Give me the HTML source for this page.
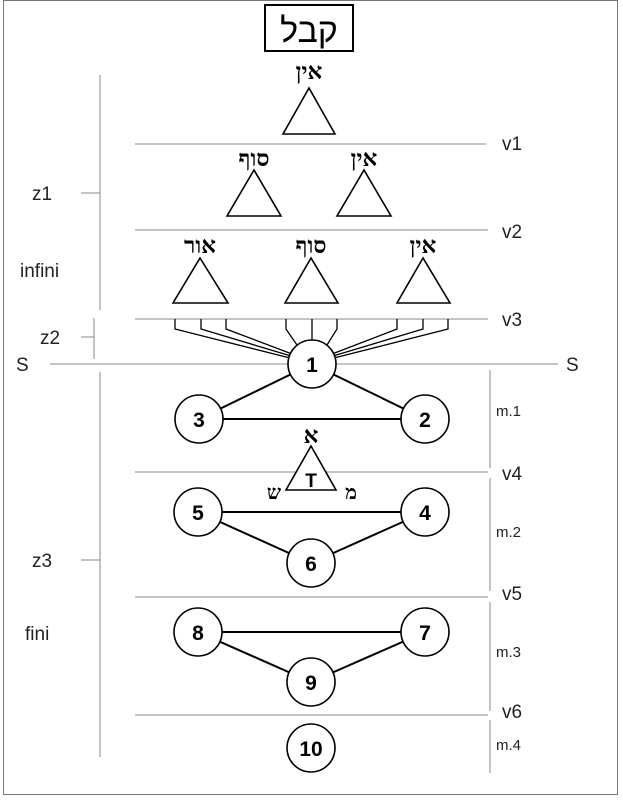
<!DOCTYPE html>
<html><head><meta charset="utf-8"><style>
html,body{margin:0;padding:0;background:#fff;width:623px;height:801px;overflow:hidden}
svg{display:block}
.h{font-family:"Liberation Serif","Noto Serif CJK SC",serif;font-weight:bold;font-size:23px;text-anchor:middle}
.l{font-family:"Liberation Sans",sans-serif;font-size:19px;fill:#222}
.m{font-family:"Liberation Sans",sans-serif;font-size:15px;fill:#222}
.n{font-family:"Liberation Sans",sans-serif;font-weight:bold;font-size:21px;text-anchor:middle}
</style></head><body>
<svg width="623" height="801" viewBox="0 0 623 801" xmlns="http://www.w3.org/2000/svg">
<rect x="3.5" y="0.5" width="614" height="794" fill="none" stroke="#777" stroke-width="1"/>
<rect x="265" y="5" width="88" height="46" fill="none" stroke="#000" stroke-width="2"/>
<text x="309" y="42" font-family="Liberation Sans, sans-serif" font-size="34" text-anchor="middle">קבל</text>
<g class="h"><text x="309" y="79">אין</text>
<text x="254" y="166">סוף</text><text x="364" y="166">אין</text>
<text x="200" y="253">אור</text><text x="311" y="253">סוף</text><text x="423" y="253">אין</text>
<text x="311" y="443">א</text>
<text x="274" y="499" font-size="20">ש</text><text x="351" y="499" font-size="20">מ</text></g>
<g fill="#fff" stroke="#000" stroke-width="1.6">
<polygon points="309,88 283,134 335,134"/>
<polygon points="254,170 227,216 281,216"/><polygon points="364,170 337,216 391,216"/>
<polygon points="200,258 173,303 228,303"/><polygon points="311,258 285,303 338,303"/><polygon points="423,258 397,303 450,303"/>
</g>
<g stroke="#888" stroke-width="1">
<line x1="135" y1="144" x2="486" y2="144"/><line x1="135" y1="230" x2="488" y2="230"/>
<line x1="135" y1="319" x2="488" y2="319"/><line x1="50" y1="364" x2="558" y2="364"/>
<line x1="135" y1="472" x2="488" y2="472"/><line x1="135" y1="597" x2="488" y2="597"/>
<line x1="135" y1="715" x2="488" y2="715"/>
<line x1="100" y1="75" x2="100" y2="310"/><line x1="81" y1="193" x2="100" y2="193"/>
<line x1="94" y1="318" x2="94" y2="359"/><line x1="81" y1="337" x2="94" y2="337"/>
<line x1="100" y1="372" x2="100" y2="757"/><line x1="81" y1="560" x2="100" y2="560"/>
<line x1="490" y1="370" x2="490" y2="468"/><line x1="490" y1="478" x2="490" y2="591"/>
<line x1="490" y1="602" x2="490" y2="711"/><line x1="490" y1="720" x2="490" y2="773"/>
</g>
<g stroke="#000" stroke-width="1.3" fill="none">
<polyline points="175,319 175,329 290,358"/><polyline points="201,319 201,329 291,356"/><polyline points="226,319 226,329 292,354"/>
<polyline points="286,319 286,329 297,345"/><line x1="312" y1="319" x2="312" y2="340"/><polyline points="337,319 337,329 327,345"/>
<polyline points="397,319 397,329 332,354"/><polyline points="423,319 423,329 333,356"/><polyline points="448,319 448,329 334,358"/>
<g stroke-width="2"><line x1="199" y1="419" x2="425" y2="419"/><line x1="312" y1="364" x2="199" y2="419"/><line x1="312" y1="364" x2="425" y2="419"/>
<line x1="198" y1="512" x2="425" y2="512"/><line x1="198" y1="512" x2="311" y2="563"/><line x1="425" y1="512" x2="311" y2="563"/>
<line x1="198" y1="632" x2="425" y2="632"/><line x1="198" y1="632" x2="311" y2="682"/><line x1="425" y1="632" x2="311" y2="682"/></g>
</g>
<polygon points="311,446 286,490 336,490" fill="#fff" stroke="#000" stroke-width="1.6"/>
<text x="311" y="487" font-family="Liberation Sans,sans-serif" font-size="19" font-weight="bold" text-anchor="middle">T</text>
<g fill="#fff" stroke="#000" stroke-width="1.6">
<circle cx="312" cy="364" r="24"/><circle cx="199" cy="419" r="24"/><circle cx="425" cy="419" r="24"/>
<circle cx="198" cy="512" r="24"/><circle cx="425" cy="512" r="24"/><circle cx="311" cy="563" r="24"/>
<circle cx="198" cy="632" r="24"/><circle cx="425" cy="632" r="24"/><circle cx="311" cy="682" r="24"/>
<circle cx="311" cy="748" r="24"/>
</g>
<g class="n"><text x="312" y="372">1</text><text x="199" y="427">3</text><text x="425" y="427">2</text>
<text x="198" y="520">5</text><text x="425" y="520">4</text><text x="311" y="571">6</text>
<text x="198" y="640">8</text><text x="425" y="640">7</text><text x="311" y="690">9</text><text x="311" y="756">10</text></g>
<g class="l"><text x="502" y="150">v1</text><text x="502" y="238">v2</text><text x="502" y="326">v3</text>
<text x="502" y="480">v4</text><text x="502" y="600">v5</text><text x="502" y="718">v6</text>
<text x="16" y="371">S</text><text x="566" y="371">S</text>
<text x="32" y="200">z1</text><text x="40" y="344">z2</text><text x="32" y="567">z3</text>
<text x="20" y="277">infini</text><text x="25" y="640">fini</text></g>
<g class="m"><text x="496" y="416">m.1</text><text x="496" y="537">m.2</text><text x="496" y="657">m.3</text><text x="496" y="750">m.4</text></g>
</svg>
</body></html>
